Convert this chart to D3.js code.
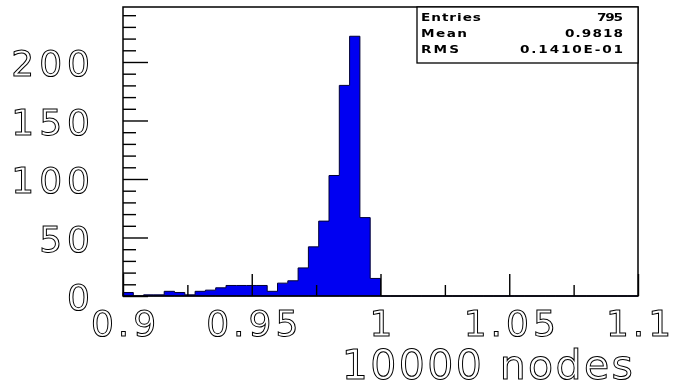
<!DOCTYPE html>
<html>
<head>
<meta charset="utf-8">
<script src="https://cdn.jsdelivr.net/npm/d3@7"></script>
<style>
  html, body { margin: 0; padding: 0; background: #fff; }
  svg { display: block; }
  .lbl { font-family: "DejaVu Sans", "Liberation Sans", sans-serif; fill: none; stroke: #000; stroke-width: 1px; }
  .stat { font-family: "DejaVu Sans", sans-serif; font-size: 10.5px; font-weight: bold; fill: #000; }
</style>
</head>
<body>
<svg id="chart" width="674" height="389"></svg>
<script>
// Histogram of node ratio for 10000 nodes: 50 bins from 0.9 to 1.1 (bin width 0.004)
const binLow = 0.9;
const binWidth = 0.004;
const counts = [
  3, 0, 1, 1, 4, 3, 1, 4, 5, 7,
  9, 9, 9, 9, 4, 11, 13, 24, 42, 64,
  103, 180, 222, 67, 15, 0, 0, 0, 0, 0,
  0, 0, 0, 0, 0, 0, 0, 0, 0, 0,
  0, 0, 0, 0, 0, 0, 0, 0, 0, 0
];

const xDomain = [0.9, 1.1];
const yDomain = [0, 247];
const xMajorTicks = [0.9, 0.95, 1.0, 1.05, 1.1];
const xTickLabels = ["0.9", "0.95", "1", "1.05", "1.1"];
const xMinorTicks = [0.925, 0.975, 1.025, 1.075];
const yMajorTicks = [0, 50, 100, 150, 200];
const yTickLabels = ["0", "50", "100", "150", "200"];
const yMinorTicks = d3.range(0, 250, 10).filter(v => v % 50 !== 0);
const xTitle = "10000 nodes";

const statNames = ["Entries", "Mean", "RMS"];
const statValues = ["795", "0.9818", "0.1410E-01"];

// frame geometry
const frameL = 123, frameR = 638, frameT = 7, frameB = 296;

const svg = d3.select("#chart");

// grayscale filter so the outlined glyphs render without colour fringes
svg.append("defs").append("filter")
  .attr("id", "mono")
  .attr("x", "-10%").attr("y", "-10%").attr("width", "120%").attr("height", "120%")
  .append("feColorMatrix")
  .attr("type", "saturate")
  .attr("values", 0);

const x = d3.scaleLinear().domain(xDomain).range([frameL, frameR]);
const y = d3.scaleLinear().domain(yDomain).range([frameB, frameT]);

// histogram bars
const bins = counts.map((c, i) => ({ x0: binLow + i * binWidth, c }));
const stepPts = bins.concat([{ x0: binLow + counts.length * binWidth, c: counts[counts.length - 1] }]);
const area = d3.area()
  .curve(d3.curveStepAfter)
  .x(d => x(d.x0))
  .y0(y(0))
  .y1(d => y(d.c));
svg.append("path")
  .datum(stepPts)
  .attr("d", area)
  .attr("fill", "#0000f2")
  .attr("stroke", "#000033")
  .attr("stroke-width", 1);

// axes with ticks pointing inward
const tickStyle = g => {
  g.select(".domain").remove();
  g.selectAll(".tick line").attr("stroke", "#000").attr("stroke-width", 1.4);
};

svg.append("g")
  .attr("transform", `translate(0,${frameB})`)
  .call(d3.axisBottom(x).tickValues(xMinorTicks).tickSizeInner(-11).tickSizeOuter(0).tickFormat(""))
  .call(tickStyle);

const gx = svg.append("g")
  .attr("transform", `translate(0,${frameB})`)
  .call(d3.axisBottom(x).tickValues(xMajorTicks).tickSizeInner(-22).tickSizeOuter(0).tickPadding(14)
    .tickFormat((d, i) => xTickLabels[i]))
  .call(tickStyle);
gx.attr("font-size", null).attr("font-family", null);
gx.selectAll(".tick text")
  .attr("class", "lbl")
  .attr("fill", null)
  .attr("filter", "url(#mono)")
  .style("font-size", "36px")
  .style("letter-spacing", "4px")
  .attr("dx", "2px");

svg.append("g")
  .attr("transform", `translate(${frameL},0)`)
  .call(d3.axisLeft(y).tickValues(yMinorTicks).tickSizeInner(-13).tickSizeOuter(0).tickFormat(""))
  .call(tickStyle);

const gy = svg.append("g")
  .attr("transform", `translate(${frameL},0)`)
  .call(d3.axisLeft(y).tickValues(yMajorTicks).tickSizeInner(-25).tickSizeOuter(0).tickPadding(33)
    .tickFormat((d, i) => yTickLabels[i]))
  .call(tickStyle);
gy.attr("font-size", null).attr("font-family", null);
gy.selectAll(".tick text")
  .attr("class", "lbl")
  .attr("fill", null)
  .attr("filter", "url(#mono)")
  .style("font-size", "36px")
  .style("letter-spacing", "5px")
  .attr("dx", "5px")
  .attr("dy", "0.38em");

// frame
svg.append("rect")
  .attr("x", frameL).attr("y", frameT)
  .attr("width", frameR - frameL).attr("height", frameB - frameT)
  .attr("fill", "none")
  .attr("stroke", "#000")
  .attr("stroke-width", 1.5);

// axis title, right-aligned under the x axis
svg.append("text")
  .attr("class", "lbl")
  .attr("filter", "url(#mono)")
  .attr("x", 633)
  .attr("y", 379)
  .attr("dx", "2.4px")
  .attr("text-anchor", "end")
  .style("font-size", "41px")
  .style("letter-spacing", "2.4px")
  .text(xTitle);

// statistics box
const boxLeft = 417, boxBottom = 63;
svg.append("rect")
  .attr("x", boxLeft).attr("y", frameT)
  .attr("width", frameR - boxLeft).attr("height", boxBottom - frameT)
  .attr("fill", "#fff")
  .attr("stroke", "#000")
  .attr("stroke-width", 1.3);

// wide screen font: glyphs stretched horizontally, widths fitted per entry
const stretch = 1.3;
const nameWidths = [60, 46, 38];
const valueWidths = [26, 58, 103];
const statG = svg.append("g").attr("filter", "url(#mono)");
statNames.forEach((name, i) => {
  statG.append("g")
    .attr("transform", `translate(421,${21 + i * 16}) scale(${stretch},1)`)
    .append("text")
    .attr("class", "stat")
    .attr("textLength", nameWidths[i] / stretch)
    .attr("lengthAdjust", "spacing")
    .text(name);
  statG.append("g")
    .attr("transform", `translate(623,${21 + i * 16}) scale(${stretch},1)`)
    .append("text")
    .attr("class", "stat")
    .attr("text-anchor", "end")
    .attr("textLength", valueWidths[i] / stretch)
    .attr("lengthAdjust", "spacing")
    .text(statValues[i]);
});
</script>
</body>
</html>
